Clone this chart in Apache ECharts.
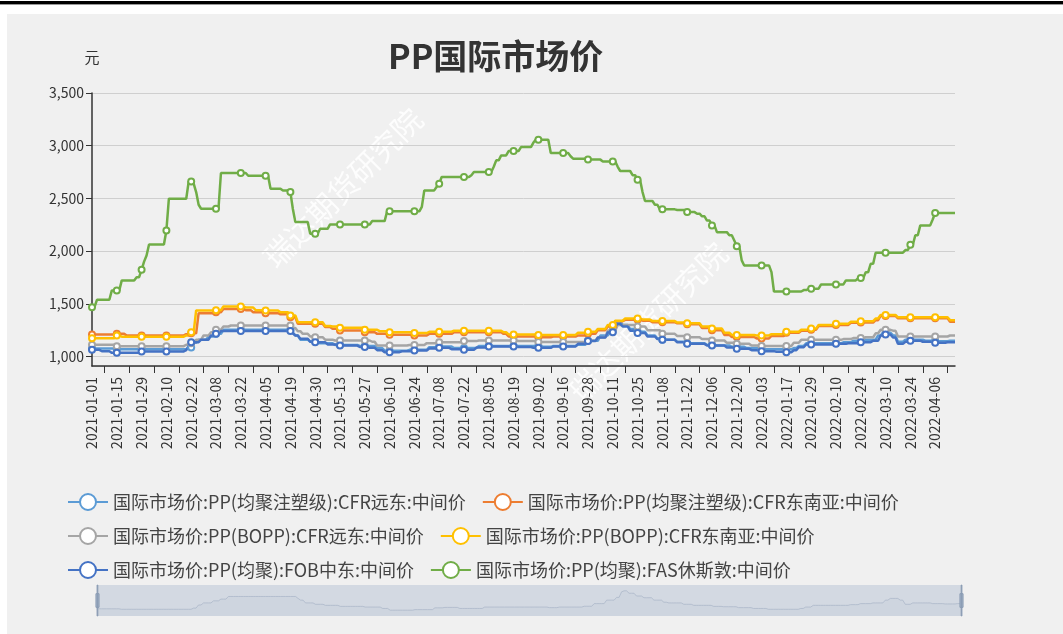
<!DOCTYPE html>
<html lang="zh">
<head>
<meta charset="UTF-8">
<title>PP国际市场价</title>
<script src="https://cdn.jsdelivr.net/npm/echarts@6/dist/echarts.min.js"></script>
<style>
    body { margin: 0; background: #fff; width: 1063px; height: 634px; overflow: hidden; position: relative; }
    #topline { position: absolute; left: 0; top: 1px; width: 1063px; height: 3px; background: #000; border-bottom: 1px solid #999; }
    #main { position: absolute; left: 7px; top: 14px; width: 1056px; height: 620px; }
</style>
</head>
<body>
<div id="topline"></div>
<div id="main"></div>
<script>
    // 横轴上显示的日期(每10个点一个)
    var tickDates = ['2021-01-01','2021-01-15','2021-01-29','2021-02-10','2021-02-22','2021-03-08','2021-03-22',
        '2021-04-05','2021-04-19','2021-04-30','2021-05-13','2021-05-27','2021-06-10','2021-06-24','2021-07-08',
        '2021-07-22','2021-08-05','2021-08-19','2021-09-02','2021-09-16','2021-09-28','2021-10-11','2021-10-25',
        '2021-11-08','2021-11-22','2021-12-06','2021-12-20','2022-01-03','2022-01-17','2022-01-29','2022-02-10',
        '2022-02-24','2022-03-10','2022-03-24','2022-04-06'];
    var tailDates = ['2022-04-07','2022-04-08','2022-04-11','2022-04-12','2022-04-13','2022-04-14','2022-04-15','2022-04-18'];

    var seriesNames = [
        '国际市场价:PP(均聚注塑级):CFR远东:中间价',
        '国际市场价:PP(均聚注塑级):CFR东南亚:中间价',
        '国际市场价:PP(BOPP):CFR远东:中间价',
        '国际市场价:PP(BOPP):CFR东南亚:中间价',
        '国际市场价:PP(均聚):FOB中东:中间价',
        '国际市场价:PP(均聚):FAS休斯敦:中间价'
    ];
    var colors = ['#5b9bd5', '#ed7d31', '#a5a5a5', '#ffc000', '#4472c4', '#70ad47'];

    // 价格: [从第几个点开始, 价格], 价格一直保持到下一次变动
    var cfrFarEast = [[0,1075],[10,1068],[39,1085],[41,1130],[43,1160],[47,1190],[50,1215],[53,1253],[81,1225],[82,1200],
        [84,1160],[88,1140],[92,1125],[98,1110],[108,1100],[115,1080],[118,1055],[128,1063],[136,1089],[140,1095],
        [146,1080],[156,1100],[182,1092],[186,1100],[196,1112],[200,1150],[205,1200],[209,1240],[211,1320],[212,1335],
        [214,1300],[217,1260],[220,1235],[224,1200],[228,1170],[230,1160],[236,1140],[240,1125],[248,1110],[252,1105],
        [258,1092],[264,1080],[270,1068],[283,1080],[285,1100],[288,1125],[303,1135],[307,1150],[312,1160],[317,1200],
        [319,1225],[323,1200],[325,1140],[328,1160],[336,1150],[341,1145],[346,1150]];
    var cfrSeAsia = [[0,1209],[10,1215],[14,1200],[38,1212],[40,1220],[43,1411],[50,1421],[53,1450],[62,1440],[65,1420],
        [70,1411],[76,1400],[80,1373],[83,1310],[94,1280],[97,1263],[100,1247],[110,1231],[115,1215],[120,1206],
        [130,1200],[136,1215],[146,1231],[166,1215],[168,1190],[180,1183],[186,1190],[196,1200],[200,1215],[204,1250],
        [208,1285],[211,1335],[215,1348],[222,1340],[226,1326],[236,1315],[240,1305],[246,1270],[250,1250],[255,1205],
        [258,1185],[268,1172],[274,1195],[280,1225],[286,1245],[290,1255],[293,1290],[300,1300],[306,1320],[310,1322],
        [316,1345],[318,1385],[325,1362],[340,1362],[346,1330]];
    var boppFarEast = [[0,1111],[10,1098],[38,1112],[40,1127],[42,1160],[45,1200],[48,1230],[50,1253],[53,1285],[56,1294],
        [81,1270],[83,1240],[85,1215],[88,1190],[90,1183],[94,1160],[98,1152],[113,1140],[115,1104],[128,1110],
        [135,1127],[140,1136],[150,1146],[156,1152],[172,1148],[180,1138],[200,1150],[204,1180],[208,1247],[212,1300],
        [220,1285],[224,1250],[230,1215],[236,1195],[240,1183],[246,1165],[250,1152],[256,1130],[260,1120],[266,1105],
        [270,1100],[283,1130],[286,1158],[303,1165],[307,1175],[312,1183],[316,1220],[318,1253],[323,1245],[325,1190],
        [346,1199]];
    var boppSeAsia = [[0,1174],[10,1199],[12,1188],[38,1200],[40,1231],[42,1437],[50,1440],[53,1475],[62,1465],[66,1440],
        [70,1437],[76,1420],[80,1389],[83,1326],[94,1290],[97,1285],[100,1272],[110,1253],[116,1240],[120,1231],
        [130,1222],[136,1235],[146,1245],[166,1230],[168,1210],[180,1205],[196,1225],[200,1235],[204,1262],[208,1300],
        [211,1340],[215,1360],[222,1352],[226,1336],[236,1322],[240,1315],[246,1285],[250,1265],[255,1225],[258,1205],
        [268,1200],[274,1212],[280,1235],[286,1255],[290,1265],[293,1300],[300,1312],[306,1330],[310,1335],[316,1360],
        [318,1395],[325,1372],[340,1372],[346,1345]];
    var fobMidEast = [[0,1063],[4,1050],[8,1035],[20,1048],[38,1060],[39,1100],[40,1136],[44,1160],[48,1200],[50,1215],
        [52,1241],[81,1220],[82,1200],[84,1168],[88,1140],[90,1136],[95,1115],[100,1104],[108,1090],[112,1082],
        [115,1060],[118,1041],[125,1050],[130,1057],[136,1075],[140,1082],[145,1070],[150,1063],[155,1085],[160,1095],
        [172,1090],[178,1082],[186,1095],[196,1120],[200,1146],[204,1180],[208,1231],[211,1290],[212,1310],[214,1285],
        [217,1245],[220,1222],[224,1190],[228,1165],[230,1158],[236,1135],[240,1120],[248,1104],[256,1085],[260,1073],
        [266,1060],[270,1051],[276,1045],[280,1041],[283,1060],[285,1089],[288,1114],[300,1120],[305,1125],[310,1136],
        [315,1150],[318,1200],[320,1209],[323,1180],[325,1120],[328,1140],[330,1150],[335,1140],[340,1130],[345,1136]];
    var fasHouston = [[0,1468],[2,1538],[8,1627],[12,1722],[18,1753],[20,1823],[21,1900],[22,1959],[23,2063],[30,2196],
        [31,2497],[39,2661],[41,2640],[42,2560],[43,2440],[44,2402],[52,2741],[63,2715],[72,2592],[77,2575],[80,2560],
        [81,2400],[82,2275],[88,2165],[92,2212],[96,2253],[113,2285],[119,2377],[133,2420],[134,2576],[139,2610],
        [140,2640],[141,2703],[153,2720],[154,2750],[162,2800],[163,2861],[165,2908],[168,2949],[173,2987],[178,3030],
        [179,3057],[185,2930],[193,2900],[194,2877],[200,2868],[206,2851],[212,2800],[213,2760],[218,2720],[220,2678],
        [222,2560],[223,2475],[227,2440],[229,2396],[236,2390],[240,2370],[244,2355],[246,2330],[248,2290],[250,2244],
        [252,2180],[257,2150],[259,2100],[260,2047],[262,1912],[263,1864],[274,1800],[275,1617],[287,1630],[289,1643],
        [294,1684],[304,1722],[309,1744],[312,1800],[314,1880],[316,1985],[328,2010],[330,2060],[332,2150],[334,2244],
        [339,2300],[340,2361]];

    // 生成类目: 两个显示日期之间补9个日期
    function fmt(d) {
        return d.toISOString().slice(0, 10);
    }
    var categories = [];
    for (var t = 0; t < tickDates.length; t++) {
        categories.push(tickDates[t]);
        if (t + 1 < tickDates.length) {
            var a = new Date(tickDates[t] + 'T00:00:00Z');
            var b = new Date(tickDates[t + 1] + 'T00:00:00Z');
            var days = (b - a) / 86400000;
            for (var j = 1; j < 10; j++) {
                categories.push(fmt(new Date(a.getTime() + Math.round(j * days / 10) * 86400000)));
            }
        }
    }
    categories = categories.concat(tailDates);
    var N = categories.length;

    function expand(steps) {
        var out = [], k = 0;
        for (var i = 0; i < N; i++) {
            while (k + 1 < steps.length && steps[k + 1][0] <= i) k++;
            out.push(steps[k][1]);
        }
        return out;
    }

    var allData = [cfrFarEast, cfrSeAsia, boppFarEast, boppSeAsia, fobMidEast, fasHouston];
    var font = '"Noto Sans CJK SC", "Noto Sans", sans-serif';

    var series = allData.map(function (d, i) {
        return {
            name: seriesNames[i],
            type: 'line',
            data: expand(d),
            symbol: 'emptyCircle',
            symbolSize: 6,
            showAllSymbol: 'auto',
            lineStyle: { width: 2.5, color: colors[i] },
            itemStyle: { color: colors[i], borderWidth: 1.5 }
        };
    });

    var myChart = echarts.init(document.getElementById('main'));
    var option = {
        animation: false,
        backgroundColor: '#f0f0f0',
        color: colors,
        textStyle: { fontFamily: font },
        title: {
            text: 'PP国际市场价',
            left: 376,
            top: 20,
            textStyle: { fontSize: 34, fontWeight: 'bold', color: '#333', fontFamily: font }
        },
        grid: { left: 85, right: 108, top: 79, bottom: 268 },
        legend: {
            left: 55,
            top: 474,
            width: 900,
            itemWidth: 40,
            itemHeight: 20,
            itemGap: 16,
            textStyle: { fontSize: 18, color: '#444', fontFamily: font },
            data: seriesNames
        },
        xAxis: {
            type: 'category',
            data: categories,
            boundaryGap: false,
            axisLine: { lineStyle: { color: '#333', width: 1.5 } },
            axisTick: {
                length: 7,
                lineStyle: { color: '#333' },
                interval: function (idx) { return idx % 10 === 5; }
            },
            axisLabel: { interval: 9, rotate: 90, margin: 11, fontSize: 14, color: '#333' }
        },
        yAxis: {
            type: 'value',
            min: 910,
            max: 3500,
            name: '元',
            nameLocation: 'end',
            nameGap: 28,
            nameTextStyle: { fontSize: 15, color: '#333', align: 'center' },
            axisLine: { show: true, lineStyle: { color: '#333', width: 1.5 } },
            axisTick: { show: true, length: 6, lineStyle: { color: '#333' } },
            axisLabel: { fontSize: 14, color: '#333', showMinLabel: false },
            splitLine: { lineStyle: { color: '#cfcfcf' } }
        },
        dataZoom: [{
            type: 'slider',
            start: 0,
            end: 100,
            left: 87,
            right: 103,
            top: 571,
            height: 31,
            backgroundColor: 'rgba(0,0,0,0)',
            borderColor: 'transparent',
            fillerColor: 'rgba(167,183,204,0.4)',
            dataBackground: {
                lineStyle: { color: '#b0b9c8', width: 0.8 },
                areaStyle: { color: 'rgba(160,172,190,0.3)' }
            },
            selectedDataBackground: {
                lineStyle: { color: '#b0b9c8', width: 0.8 },
                areaStyle: { color: 'rgba(160,172,190,0.3)' }
            },
            handleIcon: 'path://M-1,0 L1,0 L1,100 L-1,100 Z M-5,28 L5,28 L5,72 L-5,72 Z',
            handleSize: '100%',
            handleStyle: { color: '#a9b8cc', borderColor: '#8a9bb3' },
            moveHandleSize: 0,
            showDetail: false,
            brushSelect: false
        }],
        graphic: [
            {
                type: 'text', x: 336, y: 174, rotation: Math.PI / 4, silent: true,
                style: { text: '瑞达期货研究院', fontSize: 30, fontFamily: font, fill: 'rgba(255,255,255,0.85)', align: 'center', verticalAlign: 'middle' }
            },
            {
                type: 'text', x: 641, y: 308, rotation: Math.PI / 4, silent: true,
                style: { text: '瑞达期货研究院', fontSize: 30, fontFamily: font, fill: 'rgba(255,255,255,0.85)', align: 'center', verticalAlign: 'middle' }
            }
        ],
        series: series
    };
    myChart.setOption(option);
</script>
</body>
</html>
